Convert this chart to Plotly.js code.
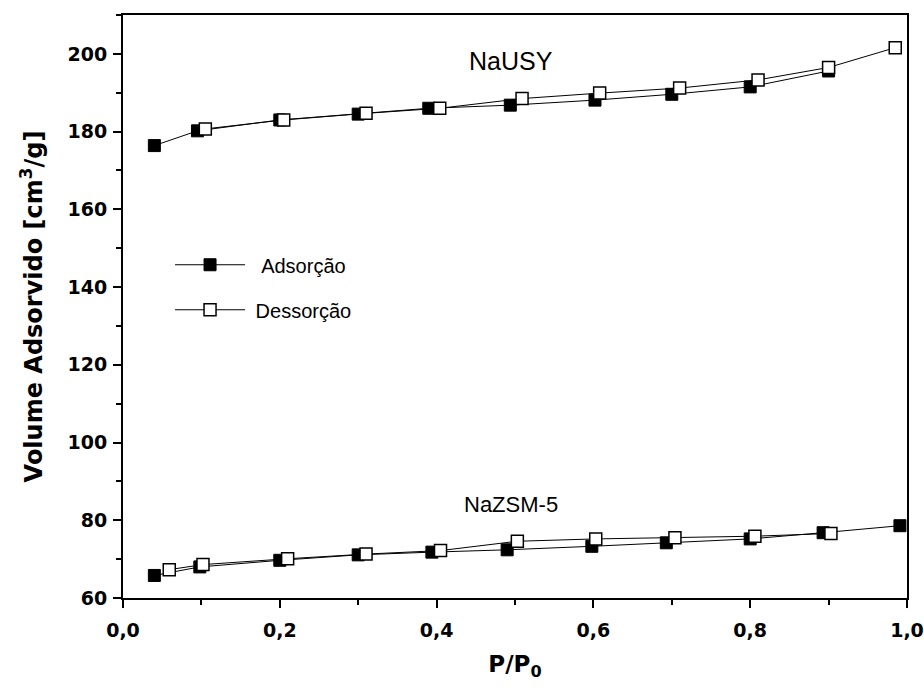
<!DOCTYPE html>
<html>
<head>
<meta charset="utf-8">
<script src="https://cdn.plot.ly/plotly-3.0.1.min.js"></script>
<style>html,body{margin:0;padding:0;background:#fff;}#chart{width:924px;height:691px;}</style>
</head>
<body>
<div id="chart"></div>
<script>
// NaUSY
const usyAdsX = [0.04, 0.095, 0.2, 0.3, 0.39, 0.494, 0.602, 0.70, 0.80, 0.90];
const usyAdsY = [176.4, 180.2, 183.0, 184.5, 186.0, 186.8, 188.1, 189.6, 191.5, 195.6];
const usyDesX = [0.985, 0.90, 0.81, 0.71, 0.608, 0.509, 0.404, 0.31, 0.205, 0.105];
const usyDesY = [201.6, 196.5, 193.3, 191.2, 189.9, 188.5, 186.0, 184.7, 183.0, 180.7];
// NaZSM-5
const zsmAdsX = [0.04, 0.098, 0.20, 0.30, 0.394, 0.49, 0.598, 0.693, 0.80, 0.893, 0.991];
const zsmAdsY = [65.8, 68.0, 69.7, 71.1, 71.8, 72.4, 73.3, 74.2, 75.2, 76.8, 78.6];
const zsmDesX = [0.059, 0.102, 0.21, 0.31, 0.405, 0.503, 0.603, 0.704, 0.806, 0.903];
const zsmDesY = [67.3, 68.6, 70.1, 71.3, 72.2, 74.6, 75.2, 75.5, 75.9, 76.6];

const legendNames = ["\u00a0\u00a0Adsorção", "\u00a0Dessorção"];
const sampleLabels = ["NaUSY", "NaZSM-5"];

const lineStyle = {color: "#000", width: 1};
const filled = {symbol: "square", size: 12, color: "#000", line: {color: "#000", width: 1}};
const hollow = {symbol: "square", size: 12, color: "#fff", line: {color: "#000", width: 1.5}};

const traces = [
  {x: usyAdsX, y: usyAdsY, mode: "lines+markers", line: lineStyle, marker: filled,
   name: legendNames[0], legendgroup: "ads", showlegend: true},
  {x: zsmAdsX, y: zsmAdsY, mode: "lines+markers", line: lineStyle, marker: filled,
   name: legendNames[0], legendgroup: "ads", showlegend: false},
  {x: usyDesX, y: usyDesY, mode: "lines+markers", line: lineStyle, marker: hollow,
   name: legendNames[1], legendgroup: "des", showlegend: true},
  {x: zsmDesX, y: zsmDesY, mode: "lines+markers", line: lineStyle, marker: hollow,
   name: legendNames[1], legendgroup: "des", showlegend: false}
];

const boldFam = "DejaVu Sans, Liberation Sans, Arial, sans-serif";
const plainFam = "Liberation Sans, Arial, sans-serif";
const tickFont = {family: boldFam, size: 19, color: "#000", weight: "bold"};

const layout = {
  width: 924, height: 691,
  margin: {l: 123, r: 17, t: 15, b: 93},
  paper_bgcolor: "#fff", plot_bgcolor: "#fff",
  separators: ",.",
  showlegend: true,
  legend: {
    x: 0.06, y: 0.533, xanchor: "left", yanchor: "middle",
    font: {family: plainFam, size: 20, color: "#000"},
    bgcolor: "rgba(0,0,0,0)", traceorder: "grouped", tracegroupgap: 16,
    itemwidth: 70
  },
  xaxis: {
    range: [0, 1.0], dtick: 0.2, tick0: 0, tickformat: ".1f",
    showline: true, linecolor: "#000", linewidth: 2, mirror: true,
    ticks: "outside", ticklen: 8, tickwidth: 2, tickcolor: "#000",
    minor: {dtick: 0.1, ticks: "outside", ticklen: 5, tickwidth: 2, tickcolor: "#000"},
    showgrid: false, zeroline: false,
    tickfont: tickFont, ticklabelstandoff: 6,
    title: {text: "P/P<sub>0</sub>", font: {family: boldFam, size: 23, color: "#000", weight: "bold"}, standoff: 16}
  },
  yaxis: {
    range: [60, 210], dtick: 20, tick0: 60,
    showline: true, linecolor: "#000", linewidth: 2, mirror: true,
    ticks: "outside", ticklen: 8, tickwidth: 2, tickcolor: "#000",
    minor: {dtick: 10, ticks: "outside", ticklen: 5, tickwidth: 2, tickcolor: "#000"},
    showgrid: false, zeroline: false,
    tickfont: tickFont, ticklabelstandoff: 2,
    title: {text: "Volume Adsorvido [cm<sup>3</sup>/g]", font: {family: boldFam, size: 24, color: "#000", weight: "bold"}, standoff: 18}
  },
  annotations: [
    {text: sampleLabels[0], xref: "x", yref: "y", x: 0.495, y: 198.2, showarrow: false,
     font: {family: plainFam, size: 25, color: "#000"}},
    {text: sampleLabels[1], xref: "x", yref: "y", x: 0.495, y: 84, showarrow: false,
     font: {family: plainFam, size: 22, color: "#000"}}
  ]
};

Plotly.newPlot("chart", traces, layout, {displayModeBar: false, staticPlot: true});
</script>
</body>
</html>
